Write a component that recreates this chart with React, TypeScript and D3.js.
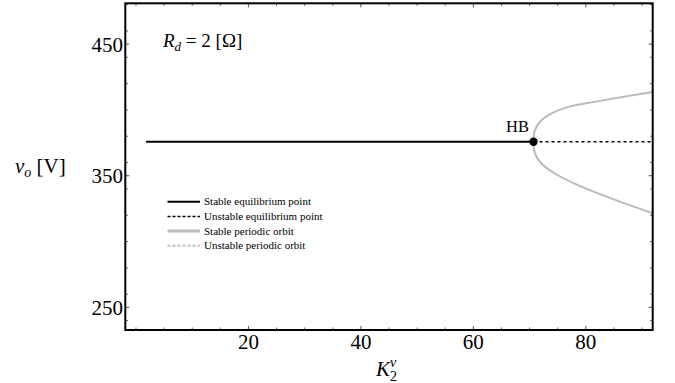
import React from "react";
import * as d3 from "d3";

const W = 675;
const H = 383;

// axis ticks
const xMajorTicks = [20, 40, 60, 80];
const xMinorTicks = [0, 5, 10, 15, 25, 30, 35, 45, 50, 55, 65, 70, 75, 85, 90];
const yMajorTicks = [250, 350, 450];
const yMinorTicks = [240, 260, 280, 300, 320, 340, 360, 380, 400, 420, 440, 460, 480];

// equilibrium branch
const eqStableK = [1.8, 70.7];
const eqUnstableK = [70.7, 91.9];
const eqValue = 375.8;
const hbK = 70.7;

// periodic orbit (max / min of v_o)
const orbitUpperK = [70.96, 71.85, 73.9, 76.9, 81.6, 87.5, 92.5];
const orbitUpperV = [384.6, 391.0, 397.3, 402.3, 406.1, 410.5, 414.1];
const orbitLowerK = [70.96, 72.1, 74.5, 78.6, 84.5, 92.5];
const orbitLowerV = [367.0, 359.3, 351.7, 342.9, 332.8, 320.7];

const legendLabels = [
  "Stable equilibrium point",
  "Unstable equilibrium point",
  "Stable periodic orbit",
  "Unstable periodic orbit",
];

const FONT = "'Liberation Serif', 'DejaVu Serif', serif";
const TS: React.CSSProperties = { fontFamily: FONT };

export default function App() {
  const left = 125.3, right = 652.7, top = 3.3, bottom = 330;
  const x = d3.scaleLinear().domain([-1.9, 91.9]).range([left, right]);
  const y = d3.scaleLinear().domain([232.8, 481]).range([bottom, top]);

  const orbitPts: [number, number][] = [
    ...orbitLowerK.map((k, i) => [k, orbitLowerV[i]] as [number, number]).reverse(),
    [hbK, eqValue],
    ...orbitUpperK.map((k, i) => [k, orbitUpperV[i]] as [number, number]),
  ];
  const orbitLine = d3
    .line<[number, number]>()
    .x((d) => x(d[0]))
    .y((d) => y(d[1]))
    .curve(d3.curveCatmullRom.alpha(0.5));

  const legendStyles = [
    { stroke: "#000", width: 2, dash: undefined },
    { stroke: "#000", width: 1.5, dash: "3,2" },
    { stroke: "#bbb", width: 3, dash: undefined },
    { stroke: "#ccc", width: 2.5, dash: "3,2" },
  ];
  const legendY0 = 201.7;
  const legendDy = 14.7;

  const tickColor = "#555";

  return (
    <svg
      width={W}
      height={H}
      style={{ position: "absolute", left: 0, top: 0, background: "#fff", fontFamily: FONT }}
    >
      <defs>
        <clipPath id="plotclip">
          <rect x={left} y={top} width={right - left} height={bottom - top} />
        </clipPath>
      </defs>

      {/* ticks */}
      {xMajorTicks.map((t) => (
        <g key={"xM" + t}>
          <line x1={x(t)} x2={x(t)} y1={bottom} y2={bottom - 4} stroke={tickColor} strokeWidth={1} />
          <line x1={x(t)} x2={x(t)} y1={top} y2={top + 4} stroke={tickColor} strokeWidth={1} />
        </g>
      ))}
      {xMinorTicks.map((t) => (
        <g key={"xm" + t}>
          <line x1={x(t)} x2={x(t)} y1={bottom} y2={bottom - 2.5} stroke={tickColor} strokeWidth={1} />
          <line x1={x(t)} x2={x(t)} y1={top} y2={top + 2.5} stroke={tickColor} strokeWidth={1} />
        </g>
      ))}
      {yMajorTicks.map((t) => (
        <g key={"yM" + t}>
          <line x1={left} x2={left + 4} y1={y(t)} y2={y(t)} stroke={tickColor} strokeWidth={1} />
          <line x1={right} x2={right - 4} y1={y(t)} y2={y(t)} stroke={tickColor} strokeWidth={1} />
        </g>
      ))}
      {yMinorTicks.map((t) => (
        <g key={"ym" + t}>
          <line x1={left} x2={left + 2.5} y1={y(t)} y2={y(t)} stroke={tickColor} strokeWidth={1} />
          <line x1={right} x2={right - 2.5} y1={y(t)} y2={y(t)} stroke={tickColor} strokeWidth={1} />
        </g>
      ))}

      {/* data */}
      <g clipPath="url(#plotclip)">
        <path d={orbitLine(orbitPts) || ""} fill="none" stroke="#bbb" strokeWidth={2} />
        <line
          x1={x(eqUnstableK[0])}
          x2={x(eqUnstableK[1])}
          y1={y(eqValue)}
          y2={y(eqValue)}
          stroke="#000"
          strokeWidth={1.5}
          strokeDasharray="3,3"
        />
        <line
          x1={x(eqStableK[0])}
          x2={x(eqStableK[1])}
          y1={y(eqValue)}
          y2={y(eqValue)}
          stroke="#000"
          strokeWidth={2}
        />
        <circle cx={x(hbK)} cy={y(eqValue)} r={4.2} fill="#000" />
      </g>

      {/* frame */}
      <rect
        x={left}
        y={top}
        width={right - left}
        height={bottom - top}
        fill="none"
        stroke="#000"
        strokeWidth={2}
      />

      {/* tick labels */}
      {xMajorTicks.map((t) => (
        <text key={"xl" + t} x={x(t)} y={349} textAnchor="middle" fontSize={21} style={TS}>
          {t}
        </text>
      ))}
      {yMajorTicks.map((t) => (
        <text key={"yl" + t} x={123} y={y(t) + 7.5} textAnchor="end" fontSize={21} style={TS}>
          {t}
        </text>
      ))}

      {/* axis labels */}
      <text x={15} y={173} fontSize={21} style={TS}>
        <tspan fontStyle="italic">v</tspan>
        <tspan fontStyle="italic" fontSize={14} dy={4}>o</tspan>
        <tspan dy={-4}>{" [V]"}</tspan>
      </text>
      <text x={376} y={376} fontSize={21} style={TS}>
        <tspan fontStyle="italic">K</tspan>
        <tspan fontSize={14} dy={5}>2</tspan>
        <tspan fontStyle="italic" fontSize={14} dx={-7} dy={-14}>v</tspan>
      </text>

      {/* annotations */}
      <text x={163} y={47} fontSize={19} style={TS}>
        <tspan fontStyle="italic">R</tspan>
        <tspan fontStyle="italic" fontSize={13} dy={4}>d</tspan>
        <tspan dy={-4}>{" = 2 [Ω]"}</tspan>
      </text>
      <text x={506} y={131.5} fontSize={16.5} style={TS}>
        HB
      </text>

      {/* legend */}
      {legendLabels.map((lab, i) => {
        const yy = legendY0 + i * legendDy;
        const s = legendStyles[i];
        return (
          <g key={lab}>
            <line
              x1={167.5}
              x2={200}
              y1={yy}
              y2={yy}
              stroke={s.stroke}
              strokeWidth={s.width}
              strokeDasharray={s.dash}
            />
            <text x={204} y={yy + 3.5} fontSize={11} style={TS}>
              {lab}
            </text>
          </g>
        );
      })}
    </svg>
  );
}
